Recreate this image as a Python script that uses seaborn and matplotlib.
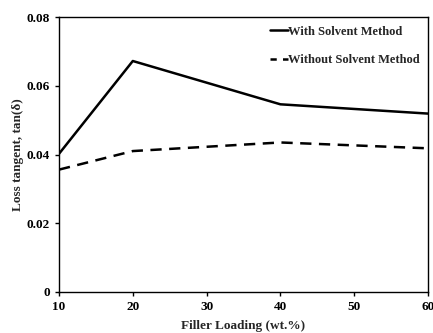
import matplotlib
matplotlib.use('Agg')
import matplotlib.pyplot as plt
import seaborn as sns
import pandas as pd

# Data
filler_loading = [10, 20, 40, 60]
with_solvent = [0.0402, 0.0672, 0.0546, 0.0519]
without_solvent = [0.0356, 0.0410, 0.0435, 0.0418]

df = pd.DataFrame({
    'Filler Loading (wt.%)': filler_loading * 2,
    'tan': with_solvent + without_solvent,
    'Method': ['With Solvent Method'] * 4 + ['Without Solvent Method'] * 4,
})

sns.set_style('ticks')
plt.rcParams['font.family'] = ['Liberation Serif', 'DejaVu Serif']
plt.rcParams['font.weight'] = 'bold'

fig = plt.figure(figsize=(4.33, 3.33), dpi=100)
ax = fig.add_axes([59 / 433, 41 / 333, 369 / 433, 275 / 333])

sns.lineplot(data=df, x='Filler Loading (wt.%)', y='tan', hue='Method',
             style='Method', palette=['black', 'black'],
             dashes=[(None, None), (4.5, 3)], linewidth=1.8, ax=ax)
ax.lines[1].set_dashes((4.5, 3))

ax.set_xlim(10, 60)
ax.set_ylim(0, 0.08)
ax.set_xticks([10, 20, 30, 40, 50, 60])
ax.set_yticks([0, 0.02, 0.04, 0.06, 0.08])
ax.set_yticklabels(['0', '0.02', '0.04', '0.06', '0.08'])
ax.tick_params(labelsize=9.5, length=3, width=1, direction='out', colors='black')
for lbl in ax.get_xticklabels() + ax.get_yticklabels():
    lbl.set_fontweight('bold')
for sp in ax.spines.values():
    sp.set_visible(True)
    sp.set_color('black')
    sp.set_linewidth(1.0)

ax.set_xlabel('Filler Loading (wt.%)', fontsize=9.5, fontweight='bold', labelpad=5)
ax.set_ylabel('Loss tangent, tan(δ)', fontsize=9.5, fontweight='bold', labelpad=2)

leg = ax.legend(loc='upper right', frameon=False, fontsize=9,
                handlelength=1.4, handletextpad=0.0, labelspacing=1.3,
                borderaxespad=0.3, borderpad=0.4)
for t in leg.get_texts():
    t.set_fontweight('bold')
leg.get_lines()[1].set_dashes((2.5, 2.5))

fig.savefig('out.png', dpi=100)
